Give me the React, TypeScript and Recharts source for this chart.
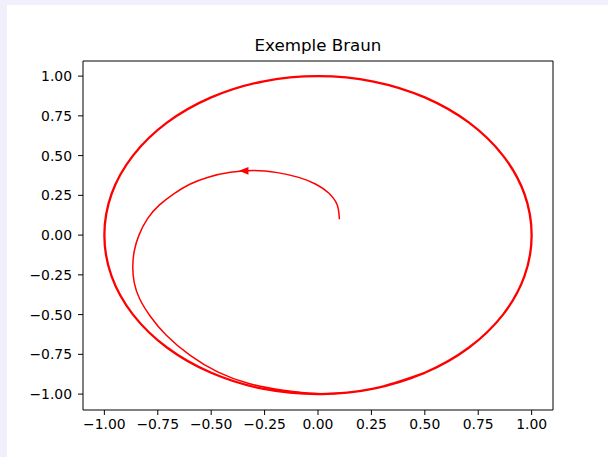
import React from "react";
import {
  ComposedChart,
  Line,
  Scatter,
  XAxis,
  YAxis,
  ReferenceLine,
} from "recharts";

// trajectory: inner spiral, then the limit cycle
const spiralX = [
  0.1, 0.09, 0.05, -0.01, -0.09, -0.19, -0.3, -0.41, -0.51, -0.6, -0.675,
  -0.742, -0.797, -0.838, -0.86, -0.867, -0.86, -0.835, -0.785, -0.71, -0.6,
  -0.47, -0.32, -0.163, -0.006, 0.13,
];
const spiralY = [
  0.1, 0.19, 0.265, 0.32, 0.363, 0.393, 0.407, 0.395, 0.366, 0.32, 0.26,
  0.19, 0.105, 0.0, -0.1, -0.2, -0.3, -0.4, -0.51, -0.63, -0.755, -0.86,
  -0.935, -0.976, -0.997, -0.991,
];

const cycleX = [
  -0.26, 0.0, 0.26, 0.5, 0.707, 0.866, 0.966, 1.0, 0.966, 0.866, 0.707, 0.5,
  0.26, 0.0, -0.26, -0.5, -0.707, -0.866, -0.966, -1.0, -0.966, -0.866,
  -0.707, -0.5, -0.26, 0.0, 0.26, 0.5,
];
const cycleY = [
  -0.966, -1.0, -0.966, -0.866, -0.707, -0.5, -0.26, 0.0, 0.26, 0.5, 0.707,
  0.866, 0.966, 1.0, 0.966, 0.866, 0.707, 0.5, 0.26, 0.0, -0.26, -0.5,
  -0.707, -0.866, -0.966, -1.0, -0.966, -0.866,
];

const arrowX = [-0.37];
const arrowY = [0.404];

const ticks = [-1, -0.75, -0.5, -0.25, 0, 0.25, 0.5, 0.75, 1];

const spiral = spiralX.map((x, i) => ({ x, y: spiralY[i] }));
const cycle = cycleX.map((x, i) => ({ x, y: cycleY[i] }));
const arrow = arrowX.map((x, i) => ({ x, y: arrowY[i] }));

const fmt = (v: number) => (v < 0 ? "\u2212" : "") + Math.abs(v).toFixed(2);

const font = "'DejaVu Sans', sans-serif";
const tickStyle = { fill: "#000", fontSize: 13.9, fontFamily: font };

const ArrowHead = (props: any) => {
  const { cx, cy } = props;
  if (cx == null || cy == null) return null;
  return (
    <polygon
      points={`${cx},${cy} ${cx + 9.5},${cy - 3.8} ${cx + 9.5},${cy + 3.8}`}
      fill="#ff0000"
    />
  );
};

export default function App() {
  return (
    <div
      style={{
        position: "fixed",
        inset: 0,
        background: "#f1effc",
      }}
    >
      <div
        style={{
          position: "absolute",
          left: 7,
          top: 5,
          width: 601,
          height: 452,
          background: "#fff",
        }}
      >
        <div
          style={{
            position: "absolute",
            left: 76,
            width: 470,
            top: 30,
            lineHeight: "20px",
            textAlign: "center",
            fontFamily: font,
            fontSize: 16.7,
            color: "#000",
          }}
        >
          Exemple Braun
        </div>
        <ComposedChart
          width={601}
          height={452}
          margin={{ top: 56, right: 55, bottom: 17, left: 0 }}
        >
          <XAxis
            dataKey="x"
            type="number"
            domain={[-1.1, 1.1]}
            ticks={ticks}
            tickFormatter={fmt}
            allowDataOverflow
            height={30}
            stroke="#000"
            tick={tickStyle}
            tickSize={5}
            tickMargin={4}
          />
          <YAxis
            dataKey="y"
            type="number"
            domain={[-1.1, 1.095]}
            ticks={ticks}
            tickFormatter={fmt}
            allowDataOverflow
            width={76}
            stroke="#000"
            tick={tickStyle}
            tickSize={5}
            tickMargin={6}
          />
          <ReferenceLine y={1.095} stroke="#000" />
          <ReferenceLine x={1.1} stroke="#000" />
          <Line
            data={spiral}
            dataKey="y"
            type="natural"
            stroke="#ff0000"
            strokeWidth={1.5}
            dot={false}
            isAnimationActive={false}
          />
          <Line
            data={cycle}
            dataKey="y"
            type="natural"
            stroke="#ff0000"
            strokeWidth={2.3}
            dot={false}
            isAnimationActive={false}
          />
          <Scatter
            data={arrow}
            dataKey="y"
            fill="#ff0000"
            shape={ArrowHead}
            isAnimationActive={false}
          />
        </ComposedChart>
      </div>
    </div>
  );
}
